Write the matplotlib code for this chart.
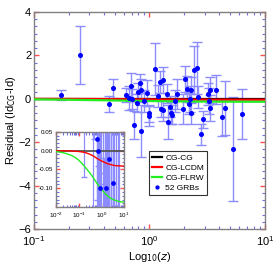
import matplotlib
matplotlib.use("Agg")
import matplotlib.pyplot as plt
from matplotlib.ticker import LogLocator, AutoMinorLocator, NullFormatter

plt.rcParams['font.family'] = ['Liberation Sans', 'DejaVu Sans']

# GRB residuals
grb_z = [0.172, 0.25, 0.449, 0.483, 0.627, 0.67, 0.69, 0.71, 0.73, 0.795,
         0.82, 0.85, 0.84, 0.956, 1.0, 1.0, 1.11, 1.23, 1.30, 1.25,
         1.30, 1.42, 1.44, 1.51, 1.54, 1.58, 1.66, 1.72, 1.96, 2.02,
         2.13, 2.19, 2.26, 2.28, 2.28, 2.43, 2.58, 2.64, 2.79, 2.89,
         3.21, 3.29, 3.32, 3.36, 3.78, 4.26, 4.51, 5.32, 6.32, 1.18,
         0.90, 0.78]
grb_res = [0.16, 2.02, -0.24, 0.48, 0.19, 0.03, 0.58, 0.0, -1.22, 0.30,
           0.71, 0.41, -1.48, 0.25, -0.67, -0.79, 1.36, 0.77, 0.85, -0.46,
           -0.52, 0.24, -1.07, -0.36, -0.67, -0.73, -0.10, 0.21, -0.48, 0.93,
           0.44, -0.22, -0.023, 0.41, -0.67, 1.33, 1.42, 0.07, -1.64, -0.95,
           0.22, -0.086, -0.41, 0.41, 0.41, -0.85, -0.42, -2.30, -0.72, 0.12,
           -0.10, -0.20]
grb_err = [0.23, 1.35, 0.35, 0.45, 0.32, 0.55, 0.62, 0.45, 0.65, 0.45,
           0.45, 0.50, 1.20, 0.60, 0.40, 0.45, 1.20, 0.50, 0.60, 0.40,
           0.50, 0.45, 0.80, 0.50, 0.50, 0.45, 0.50, 0.70, 0.70, 0.60,
           0.60, 0.50, 0.60, 0.60, 0.50, 1.10, 1.20, 0.50, 0.50, 0.40,
           0.50, 0.60, 0.60, 0.60, 0.67, 0.85, 1.25, 2.40, 1.15, 0.50,
           0.50, 0.40]

# model curves (difference from CG-CG)
model_z = [0.01, 0.02, 0.03, 0.05, 0.07, 0.1, 0.15, 0.2, 0.3, 0.4, 0.5, 0.7,
           1.0, 1.5, 2.0, 3.0, 4.0, 5.0, 7.0, 10.0]
cg_cg = [0.0] * len(model_z)
cg_lcdm = [0.0, -0.0002, -0.0003, -0.0008, -0.0013, -0.002, -0.0035, -0.005,
           -0.009, -0.0125, -0.016, -0.022, -0.027, -0.032, -0.035, -0.038,
           -0.0395, -0.040, -0.0405, -0.041]
cg_flrw = [-0.002, -0.005, -0.008, -0.013, -0.018, -0.025, -0.036, -0.045,
           -0.058, -0.068, -0.077, -0.090, -0.102, -0.115, -0.122, -0.129,
           -0.132, -0.134, -0.136, -0.137]

ERR_COL = (0.55, 0.55, 1.0)
MAJ_COL = '#ff5050'
MIN_COL = '#7070e0'
SPINE_COL = '#808080'


def style_axes(ax, lab_size, maj_len, min_len, xpad=2):
    for s in ax.spines.values():
        s.set_color(SPINE_COL)
        s.set_linewidth(1.0)
    ax.tick_params(which='major', direction='in', top=True, right=True,
                   color=MAJ_COL, length=maj_len, width=1.0,
                   labelsize=lab_size, pad=2)
    ax.tick_params(axis='x', which='major', pad=xpad)
    ax.tick_params(which='minor', direction='in', top=True, right=True,
                   color=MIN_COL, length=min_len, width=0.8)


fig = plt.figure(figsize=(2.77, 2.77), dpi=100)
ax = fig.add_axes([0.1227, 0.1733, 0.834, 0.7834])

ax.errorbar(grb_z, grb_res, yerr=grb_err, fmt='none', ecolor=ERR_COL,
            elinewidth=1.0, capsize=3.5, capthick=1.0, zorder=2)
ax.plot(model_z, cg_cg, color='black', lw=1.6, zorder=3, label='CG-CG')
ax.plot(model_z, cg_lcdm, color='red', lw=1.6, zorder=3, label='CG-LCDM')
ax.plot(model_z, cg_flrw, color='#22ee22', lw=1.6, zorder=3, label='CG-FLRW')
ax.plot(grb_z, grb_res, 'o', color='blue', ms=2.6, zorder=4,
        label='52 GRBs')

ax.set_xscale('log')
ax.set_xlim(0.1, 10)
ax.set_ylim(-6, 4)
ax.set_yticks([-6, -4, -2, 0, 2, 4])
ax.yaxis.set_minor_locator(AutoMinorLocator(6))
ax.xaxis.set_minor_locator(LogLocator(base=10, subs=range(2, 10)))
ax.xaxis.set_minor_formatter(NullFormatter())
style_axes(ax, 8, 3.5, 2.0, xpad=4)
ax.set_xlabel('Log$_{10}$($z$)', fontsize=8, labelpad=1)
ax.set_ylabel('Residual (Id$_{\\rm CG}$-Id)', fontsize=8, labelpad=0)

leg = ax.legend(loc='upper left', bbox_to_anchor=(0.50, 0.358),
                fontsize=6.0, frameon=True, fancybox=False,
                handlelength=1.1, handletextpad=0.45, borderpad=0.35,
                labelspacing=0.25, markerscale=0.8, borderaxespad=0.0)
leg.get_frame().set_edgecolor('black')
leg.get_frame().set_linewidth(0.8)

# inset
axi = fig.add_axes([0.2022, 0.2527, 0.2455, 0.2708])
axi.errorbar(grb_z, grb_res, yerr=grb_err, fmt='none', ecolor=ERR_COL,
             elinewidth=0.9, capsize=2, zorder=2)
axi.plot(model_z, cg_cg, color='#555555', lw=1.3, zorder=3)
axi.plot(model_z, cg_lcdm, color='red', lw=1.0, zorder=3)
axi.plot(model_z, cg_flrw, color='#22ee22', lw=1.0, zorder=3)
axi.plot(grb_z, grb_res, 'o', color='blue', ms=2.4, zorder=4)
axi.set_xscale('log')
axi.set_xlim(0.01, 10)
axi.set_ylim(-0.15, 0.05)
axi.set_yticks([-0.10, -0.05, 0.0, 0.05])
axi.set_yticklabels(['-0.10', '-0.05', '0.00', '0.05'])
axi.yaxis.set_minor_locator(AutoMinorLocator(5))
axi.xaxis.set_major_locator(LogLocator(base=10, numticks=10))
axi.xaxis.set_minor_locator(LogLocator(base=10, subs=range(2, 10), numticks=10))
axi.xaxis.set_minor_formatter(NullFormatter())
style_axes(axi, 4.5, 3.0, 1.8, xpad=3)
axi.set_facecolor('white')

fig.savefig('out.png', dpi=100)
